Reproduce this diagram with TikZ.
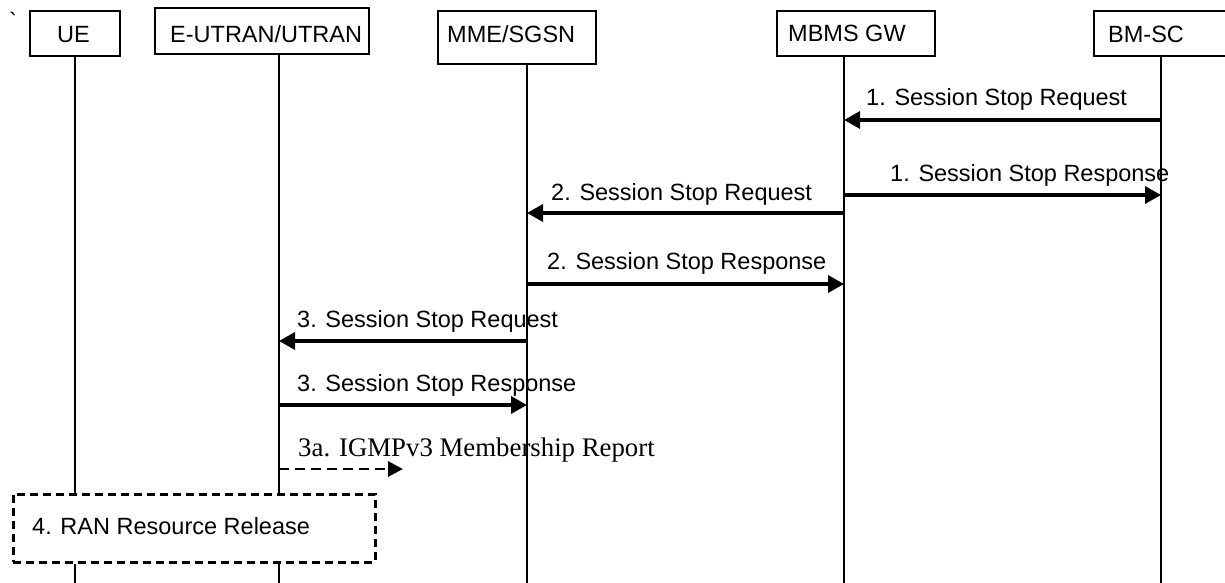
\documentclass[tikz,border=0pt]{standalone}
\usepackage{fontspec}
\setmainfont{Liberation Sans}
\newfontfamily\tnr{Liberation Serif}
\newfontfamily\rawsans{Liberation Sans}[Ligatures=TeXOff]
\usetikzlibrary{arrows.meta}
\begin{document}
\begin{tikzpicture}[x=1pt,y=-1pt,
  box/.style={draw, line width=1.8pt, inner sep=0pt, anchor=north west},
  lbl/.style={anchor=base west, inner sep=0pt, font=\fontsize{23.5}{28}\selectfont},
  serif/.style={anchor=base west, inner sep=0pt, font=\tnr\fontsize{26.8}{30}\selectfont},
  life/.style={line width=1.6pt},
  msg/.style={line width=3.4pt, -{Triangle[length=16pt,width=17pt]}},
  opt/.style={line width=2.8pt, dash pattern=on 10pt off 6pt, -{Triangle[length=15pt,width=15pt]}},
  ranbox/.style={draw, line width=2.8pt, dash pattern=on 8pt off 5pt, inner sep=0pt, anchor=north west}]
\useasboundingbox (0,0) rectangle (1225,583);

% entity boxes
\node[box, minimum width=90pt, minimum height=45pt] (ue) at (29,10) {};
\node[box, minimum width=214pt, minimum height=46pt] (eutran) at (154,7) {};
\node[box, minimum width=158pt, minimum height=53pt] (mme) at (437,10) {};
\node[box, minimum width=158pt, minimum height=45pt] (mbms) at (776,10) {};
\node[box, minimum width=140pt, minimum height=45pt] (bmsc) at (1093,10) {};

\node[lbl] (tick) at (9,30) {\rawsans\symbol{96}};
\node[lbl] (uet) at (57,43) {UE};
\node[lbl] (eutrant) at (170,43) {E-UTRAN/UTRAN};
\node[lbl] (mmet) at (447,43) {MME/SGSN};
\node[lbl] (mbmst) at (788,42) {MBMS GW};
\node[lbl] (bmsct) at (1108,43) {BM-SC};

% RAN resource release box
\node[ranbox, minimum width=362pt, minimum height=68pt] (ran) at (12,493) {};
\node[lbl] (rant) at (32,534) {4. RAN Resource Release};

% lifeline anchors
\coordinate (eutranL) at (279,53);
\coordinate (mmeL) at (527,63);
\coordinate (mbmsL) at (844,55);
\coordinate (bmscL) at (1161,55);
\coordinate (bottom) at (0,583);

\draw[life] (ue.south) -- (ue.south |- ran.north);
\draw[life] (ue.south |- ran.south) -- (ue.south |- bottom);
\draw[life] (eutranL) -- (eutranL |- ran.north);
\draw[life] (eutranL |- ran.south) -- (eutranL |- bottom);
\draw[life] (mmeL) -- (mmeL |- bottom);
\draw[life] (mbmsL) -- (mbmsL |- bottom);
\draw[life] (bmscL) -- (bmscL |- bottom);

% message rows
\coordinate (r1) at (0,120);
\coordinate (r2) at (0,195);
\coordinate (r3) at (0,213);
\coordinate (r4) at (0,284);
\coordinate (r5) at (0,341);
\coordinate (r6) at (0,405);
\coordinate (r7) at (0,469);

\draw[msg] (bmscL |- r1) -- (mbmsL |- r1);
\node[lbl] (m1) at (866,106) {1. Session Stop Request};
\draw[msg] (mbmsL |- r2) -- (bmscL |- r2);
\node[lbl] (m2) at (890,181) {1. Session Stop Response};
\draw[msg] (mbmsL |- r3) -- (mmeL |- r3);
\node[lbl] (m3) at (551,200) {2. Session Stop Request};
\draw[msg] (mmeL |- r4) -- (mbmsL |- r4);
\node[lbl] (m4) at (547,269) {2. Session Stop Response};
\draw[msg] (mmeL |- r5) -- (eutranL |- r5);
\node[lbl] (m5) at (297,327) {3. Session Stop Request};
\draw[msg] (eutranL |- r6) -- (mmeL |- r6);
\node[lbl] (m6) at (297,391) {3. Session Stop Response};
\coordinate (igmpEnd) at (403,469);
\draw[opt] (eutranL |- r7) -- (igmpEnd);
\node[serif] (m7) at (298,456) {3a. IGMPv3 Membership Report};
\end{tikzpicture}
\end{document}
